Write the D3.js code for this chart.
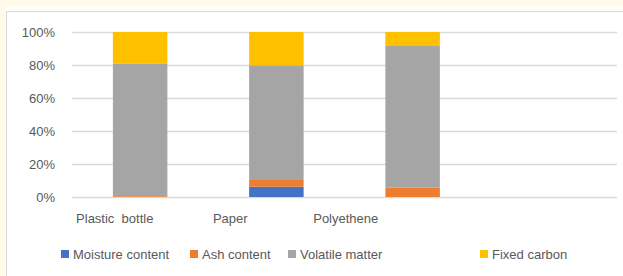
<!DOCTYPE html>
<html>
<head>
<meta charset="utf-8">
<script src="https://cdn.jsdelivr.net/npm/d3@7"></script>
<style>
  body { margin: 0; background: #fffbe8; }
  #chart { position: absolute; left: 0; top: 0; }
</style>
</head>
<body>
<div id="chart"></div>
<script>
// chart data (100% stacked columns)
const categories = ["Plastic  bottle", "Paper", "Polyethene", ""];
const seriesNames = ["Moisture content", "Ash content", "Volatile matter", "Fixed carbon"];
const moisture = [0, 6.2, 0, 0];
const ash = [0.5, 4.1, 5.6, 0];
const volatile = [80.5, 69.5, 85.9, 0];
const fixedCarbon = [19.0, 20.2, 8.5, 0];
const yTicks = [0, 0.2, 0.4, 0.6, 0.8, 1];
const colors = ["#4472C4", "#ED7D31", "#A5A5A5", "#FFC000"];

const width = 623, height = 276;
const margin = { left: 72, right: 6, top: 32, bottom: 79 };

const svg = d3.select("#chart").append("svg")
  .attr("width", width)
  .attr("height", height)
  .style("font-family", "'Liberation Sans', Arial, sans-serif");

// pale band round the frame
svg.append("rect")
  .attr("x", 5).attr("y", 6)
  .attr("width", width).attr("height", height)
  .attr("fill", "#fffef9");

// chart frame
svg.append("rect")
  .attr("x", 6.5).attr("y", 11.5)
  .attr("width", width).attr("height", height)
  .attr("fill", "#fff")
  .attr("stroke", "#d9d9d9");

const rows = categories.map((c, i) => ({
  cat: c,
  "Moisture content": moisture[i],
  "Ash content": ash[i],
  "Volatile matter": volatile[i],
  "Fixed carbon": fixedCarbon[i]
}));

const stack = d3.stack().keys(seriesNames).offset(d3.stackOffsetExpand);
const stacked = stack(rows);

const x = d3.scaleBand()
  .domain(categories)
  .range([margin.left, width - margin.right])
  .paddingInner(0.6)
  .paddingOuter(0.3);

// category labels sit left of the bars in the original
const xLabel = d3.scaleBand()
  .domain(categories)
  .range([57, 519]);

const y = d3.scaleLinear()
  .domain([0, 1])
  .range([height - margin.bottom, margin.top]);

// gridlines
svg.append("g")
  .selectAll("line")
  .data(yTicks)
  .join("line")
  .attr("x1", margin.left)
  .attr("x2", width - margin.right)
  .attr("y1", d => Math.round(y(d)) + 0.5)
  .attr("y2", d => Math.round(y(d)) + 0.5)
  .attr("stroke", "#d9d9d9")
  .attr("stroke-width", 1.5);

// y axis labels
svg.append("g")
  .selectAll("text")
  .data(yTicks)
  .join("text")
  .attr("x", 55)
  .attr("y", d => y(d))
  .attr("dy", "0.35em")
  .attr("text-anchor", "end")
  .attr("font-size", 13)
  .attr("fill", "#595959")
  .text(d3.format(".0%"));

// bars
svg.append("g")
  .selectAll("g")
  .data(stacked)
  .join("g")
  .attr("fill", (d, i) => colors[i])
  .selectAll("rect")
  .data(d => d.map(v => Object.assign(v, { cat: v.data.cat })))
  .join("rect")
  .attr("x", d => x(d.cat))
  .attr("width", x.bandwidth())
  .attr("y", d => y(d[1]))
  .attr("height", d => Math.max(0, y(d[0]) - y(d[1])));

// category labels
svg.append("g")
  .selectAll("text")
  .data(categories)
  .join("text")
  .attr("x", d => xLabel(d) + xLabel.bandwidth() / 2)
  .attr("y", 218)
  .attr("dy", "0.35em")
  .attr("text-anchor", "middle")
  .attr("font-size", 13)
  .attr("fill", "#595959")
  .style("white-space", "pre")
  .text(d => d);

// legend
const legendX = [61, 190, 288, 480];
const legend = svg.append("g")
  .selectAll("g")
  .data(seriesNames)
  .join("g")
  .attr("transform", (d, i) => `translate(${legendX[i]},254)`);

legend.append("rect")
  .attr("x", 0).attr("y", -4)
  .attr("width", 8).attr("height", 8)
  .attr("fill", (d, i) => colors[i]);

legend.append("text")
  .attr("x", 12)
  .attr("dy", "0.35em")
  .attr("font-size", 13)
  .attr("fill", "#595959")
  .text(d => d);
</script>
</body>
</html>
